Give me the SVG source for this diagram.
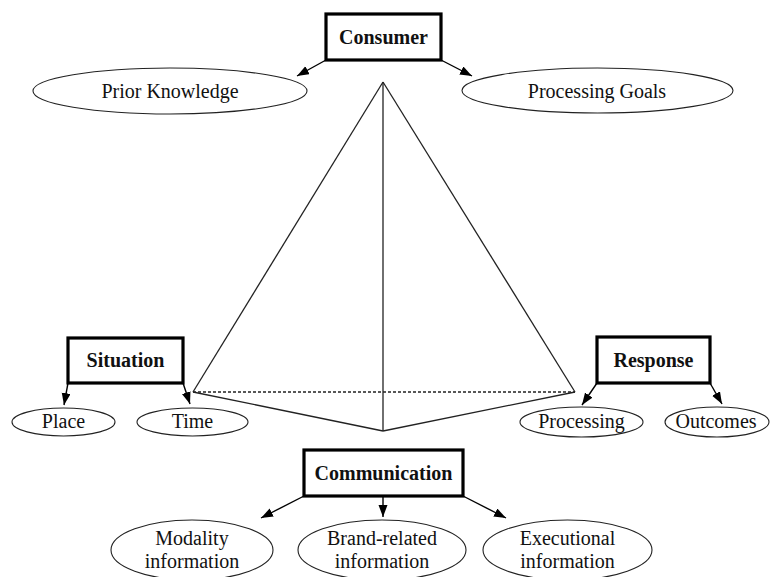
<svg xmlns="http://www.w3.org/2000/svg" width="770" height="577" viewBox="0 0 770 577">
<defs>
<marker id="ah" markerUnits="userSpaceOnUse" markerWidth="13" markerHeight="10" refX="12" refY="4.5" orient="auto">
<path d="M0,0 L12,4.5 L0,9 z" fill="#000"/>
</marker>
<style>
.box{fill:#fff;stroke:#000;stroke-width:3.2}
.ell{fill:#fff;stroke:#222;stroke-width:1.1}
.bt{font-family:"Liberation Serif","Times New Roman",serif;font-weight:bold;font-size:20px;text-anchor:middle;fill:#111}
.t{font-family:"Liberation Serif","Times New Roman",serif;font-size:20px;text-anchor:middle;fill:#111}
.con{stroke:#000;stroke-width:1.4;fill:none;marker-end:url(#ah)}
.pyr{stroke:#222;stroke-width:1.3;fill:none}
</style>
</defs>
<rect width="770" height="577" fill="#fff"/>
<g id="pyramid">
<line class="pyr" x1="383" y1="82" x2="193" y2="392"/>
<line class="pyr" x1="383" y1="82" x2="575" y2="392"/>
<line class="pyr" x1="383" y1="82" x2="383" y2="431"/>
<line class="pyr" x1="193" y1="392" x2="383" y2="431"/>
<line class="pyr" x1="575" y1="392" x2="383" y2="431"/>
<line class="pyr" x1="193" y1="392" x2="575" y2="392" stroke-dasharray="3,2" stroke-width="1.1"/>
</g>
<g id="connectors">
<line class="con" x1="326" y1="60" x2="297" y2="76"/>
<line class="con" x1="441" y1="60" x2="472" y2="76"/>
<line class="con" x1="68" y1="383" x2="64" y2="405"/>
<line class="con" x1="183" y1="383" x2="190" y2="404"/>
<line class="con" x1="597" y1="383" x2="582" y2="405"/>
<line class="con" x1="710" y1="383" x2="722" y2="404"/>
<line class="con" x1="304" y1="496" x2="261" y2="518"/>
<line class="con" x1="383" y1="496" x2="383" y2="517"/>
<line class="con" x1="463" y1="496" x2="506" y2="518"/>
</g>
<g id="consumer">
<rect class="box" x="326" y="14" width="115" height="46"/>
<text class="bt" x="383.5" y="44">Consumer</text>
</g>
<g id="prior-knowledge">
<ellipse class="ell" cx="170" cy="91" rx="137" ry="23"/>
<text class="t" x="170" y="98">Prior Knowledge</text>
</g>
<g id="processing-goals">
<ellipse class="ell" cx="597.5" cy="90.5" rx="135.5" ry="22.5"/>
<text class="t" x="597" y="98">Processing Goals</text>
</g>
<g id="situation">
<rect class="box" x="68" y="338" width="115" height="45"/>
<text class="bt" x="125.5" y="367">Situation</text>
</g>
<g id="place">
<ellipse class="ell" cx="63.5" cy="422" rx="51.5" ry="14"/>
<text class="t" x="63.5" y="428">Place</text>
</g>
<g id="time">
<ellipse class="ell" cx="192.5" cy="422" rx="55.5" ry="14"/>
<text class="t" x="192.5" y="428">Time</text>
</g>
<g id="response">
<rect class="box" x="597" y="337" width="113" height="46"/>
<text class="bt" x="653.5" y="367">Response</text>
</g>
<g id="processing">
<ellipse class="ell" cx="581.5" cy="422" rx="61.5" ry="15"/>
<text class="t" x="581.5" y="428">Processing</text>
</g>
<g id="outcomes">
<ellipse class="ell" cx="717" cy="422" rx="52" ry="15"/>
<text class="t" x="716" y="428">Outcomes</text>
</g>
<g id="communication">
<rect class="box" x="304" y="450" width="159" height="46"/>
<text class="bt" x="383.5" y="480">Communication</text>
</g>
<g id="modality">
<ellipse class="ell" cx="192" cy="550" rx="81" ry="30"/>
<text class="t" x="192" y="545">Modality</text>
<text class="t" x="192" y="568">information</text>
</g>
<g id="brand-related">
<ellipse class="ell" cx="382" cy="550" rx="84" ry="30"/>
<text class="t" x="382" y="545">Brand-related</text>
<text class="t" x="382" y="568">information</text>
</g>
<g id="executional">
<ellipse class="ell" cx="567.5" cy="550" rx="84.5" ry="30"/>
<text class="t" x="567.5" y="545">Executional</text>
<text class="t" x="567.5" y="568">information</text>
</g>
</svg>
